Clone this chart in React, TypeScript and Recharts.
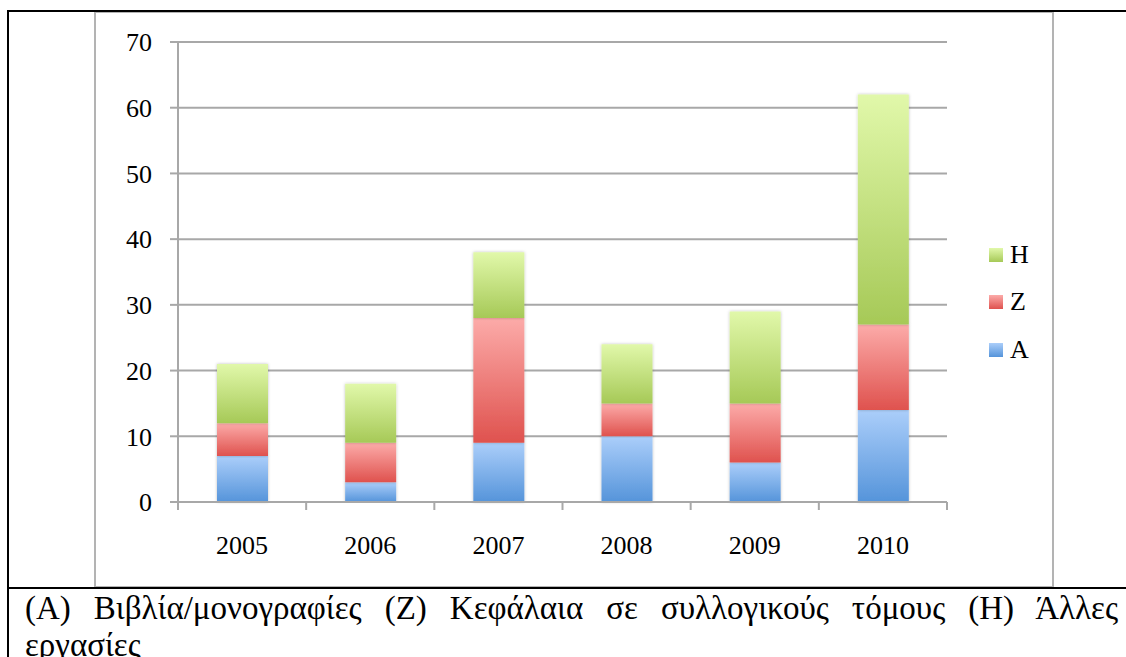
import React from "react";
import { BarChart, Bar, XAxis, YAxis, CartesianGrid } from "recharts";

const years = ["2005", "2006", "2007", "2008", "2009", "2010"];
const seriesA = [7, 3, 9, 10, 6, 14];
const seriesZ = [5, 6, 19, 5, 9, 13];
const seriesH = [9, 9, 10, 9, 14, 35];
const yTicks = [0, 10, 20, 30, 40, 50, 60, 70];
const legendOrder = ["H", "Z", "A"];
const captionLine1 = "(A) Βιβλία/μονογραφίες (Z) Κεφάλαια σε συλλογικούς τόμους  (H) Άλλες";
const captionLine2 = "εργασίες";

const data = years.map((year, i) => ({
  year,
  A: seriesA[i],
  Z: seriesZ[i],
  H: seriesH[i],
}));

const W = 1126;
const H = 657;
const PLOT_LEFT = 178;
const PLOT_RIGHT = 947;
const PLOT_TOP = 42;
const PLOT_BOTTOM = 502;
const Y_AXIS_W = 60;
const X_AXIS_H = 40;
const FONT = "'Liberation Serif', 'Times New Roman', serif";
const GRID = "#a8a8a8";

const gradients: Record<string, [string, string]> = {
  A: ["#abcefa", "#5594da"],
  Z: ["#fcaba9", "#df524e"],
  H: ["#e1f8aa", "#a6c957"],
};

const band = (PLOT_RIGHT - PLOT_LEFT) / years.length;

function XTick(props: any) {
  const { x, y, payload, index } = props;
  const left = x - band / 2;
  return (
    <g>
      <line x1={left} y1={y - 8} x2={left} y2={y} stroke={GRID} strokeWidth={2} />
      {index === years.length - 1 && (
        <line x1={x + band / 2} y1={y - 8} x2={x + band / 2} y2={y} stroke={GRID} strokeWidth={2} />
      )}
      <text x={x} y={y + 44} textAnchor="middle" fontFamily={FONT} fontSize={26} fill="#000">
        {payload.value}
      </text>
    </g>
  );
}

function LegendBox() {
  return (
    <div
      style={{
        position: "absolute",
        left: 989,
        top: 231,
        fontFamily: FONT,
        fontSize: 26,
        color: "#000",
      }}
    >
      {legendOrder.map((k) => (
        <div key={k} style={{ display: "flex", alignItems: "center", height: 47.5 }}>
          <span
            style={{
              display: "inline-block",
              width: 14,
              height: 14,
              marginRight: 7,
              background: `linear-gradient(${gradients[k][0]}, ${gradients[k][1]})`,
            }}
          />
          <span>{k}</span>
        </div>
      ))}
    </div>
  );
}

export default function App() {
  return (
    <div style={{ position: "relative", width: W, height: H, overflow: "hidden", background: "#fff" }}>
      <style>{`body{margin:0}`}</style>
      <div style={{ position: "absolute", left: 0, top: 0 }}>
        <BarChart
          width={W}
          height={H}
          data={data}
          margin={{
            top: PLOT_TOP,
            left: PLOT_LEFT - Y_AXIS_W,
            right: W - PLOT_RIGHT,
            bottom: H - PLOT_BOTTOM - X_AXIS_H,
          }}
        >
          <defs>
            {Object.keys(gradients).map((k) => (
              <linearGradient key={k} id={`grad${k}`} x1="0" y1="0" x2="0" y2="1">
                <stop offset="0%" stopColor={gradients[k][0]} />
                <stop offset="100%" stopColor={gradients[k][1]} />
              </linearGradient>
            ))}
            <filter id="barShadow" x="-20%" y="-5%" width="140%" height="110%">
              <feDropShadow dx="0" dy="0" stdDeviation="1.5" floodColor="#000" floodOpacity="0.25" />
            </filter>
          </defs>
          <CartesianGrid vertical={false} stroke={GRID} strokeWidth={2} />
          <XAxis
            dataKey="year"
            height={X_AXIS_H}
            axisLine={{ stroke: GRID, strokeWidth: 2 }}
            tickLine={false}
            tick={<XTick />}
            interval={0}
          />
          <YAxis
            width={Y_AXIS_W}
            domain={[0, 70]}
            ticks={yTicks}
            interval={0}
            axisLine={{ stroke: GRID, strokeWidth: 2 }}
            tickLine={{ stroke: GRID, strokeWidth: 2 }}
            tickSize={8}
            tickMargin={18}
            tick={{ fontFamily: FONT, fontSize: 26, fill: "#000" }}
          />
          {["A", "Z", "H"].map((k) => (
            <Bar
              key={k}
              dataKey={k}
              stackId="s"
              barSize={51}
              fill={`url(#grad${k})`}
              style={{ filter: "url(#barShadow)" }}
              isAnimationActive={false}
            />
          ))}
        </BarChart>
      </div>
      <LegendBox />
      {/* gray chart frame */}
      <div
        style={{
          position: "absolute",
          left: 94,
          top: 11,
          width: 1054 - 94,
          height: 588 - 11,
          border: "2px solid #b3b3b3",
          boxSizing: "border-box",
        }}
      />
      {/* table borders */}
      <div style={{ position: "absolute", left: 7, top: 10, width: W - 7, height: 2, background: "#000" }} />
      <div style={{ position: "absolute", left: 7, top: 10, width: 2, height: H - 10, background: "#000" }} />
      <div style={{ position: "absolute", left: 7, top: 587, width: W - 7, height: 2, background: "#000" }} />
      <div
        style={{
          position: "absolute",
          left: 25,
          top: 590,
          width: 1093,
          fontFamily: FONT,
          fontSize: 33,
          lineHeight: "37px",
          color: "#000",
        }}
      >
        <div style={{ textAlign: "justify", textAlignLast: "justify", whiteSpace: "nowrap" }}>
          {captionLine1}
        </div>
        <div>{captionLine2}</div>
      </div>
    </div>
  );
}
